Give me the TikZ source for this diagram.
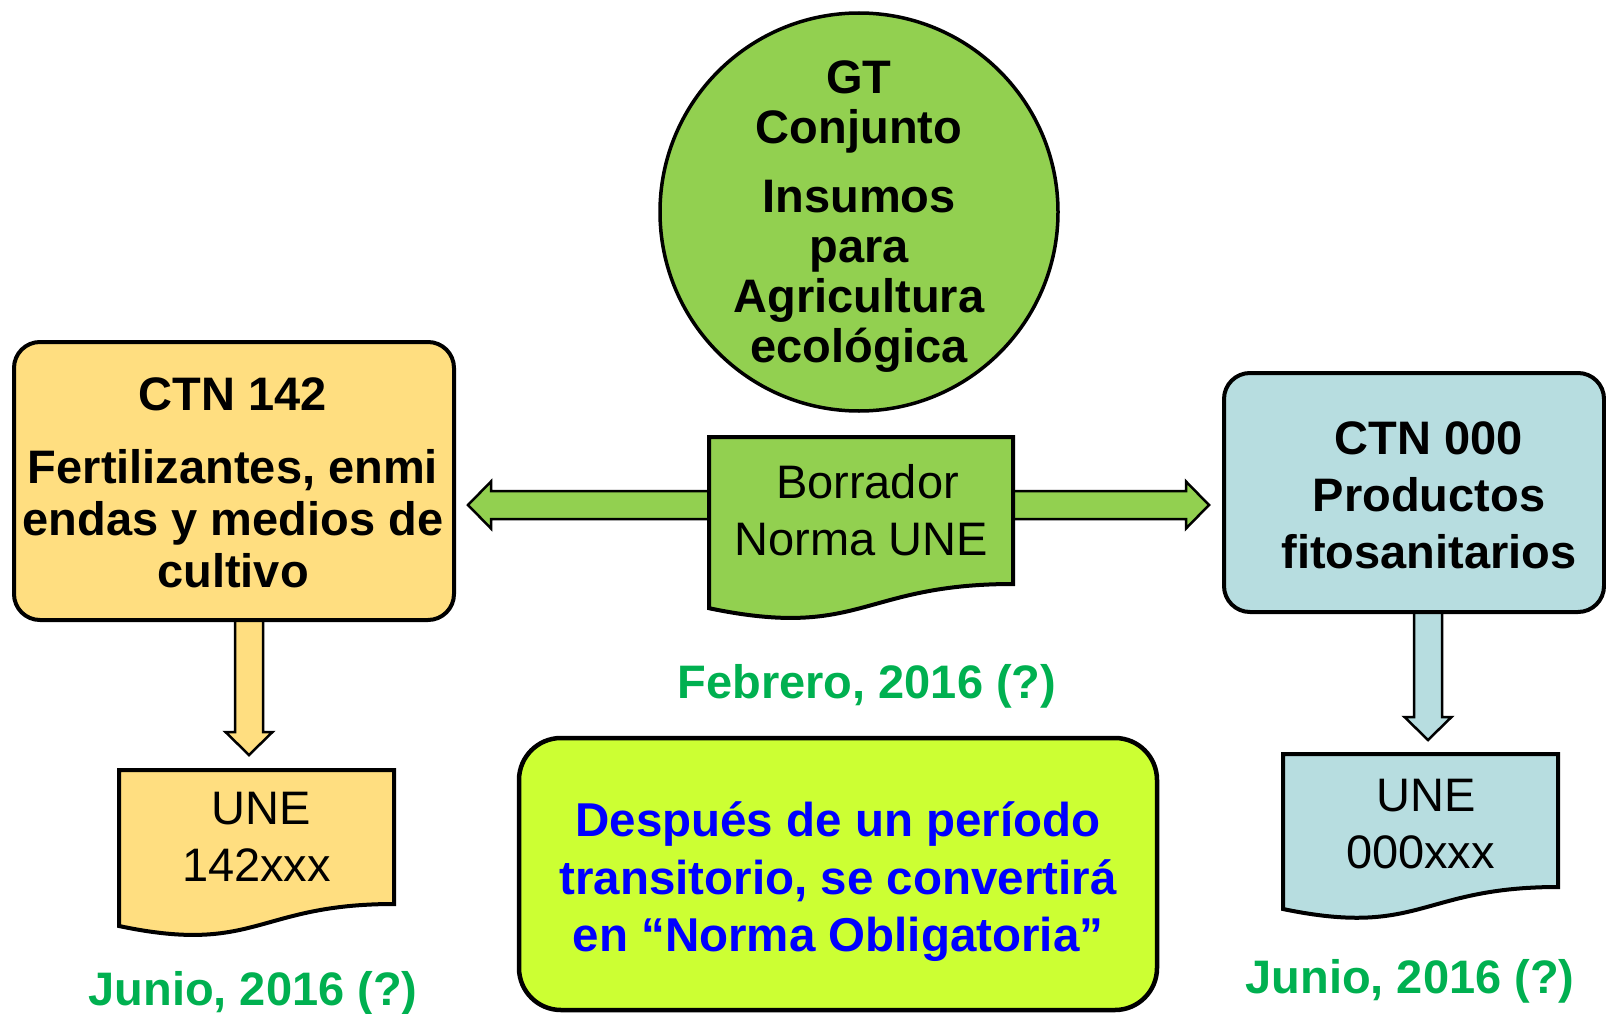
\documentclass[tikz,border=0pt]{standalone}
\usepackage{fontspec}
\setmainfont{Liberation Sans}
\usetikzlibrary{calc}
\pgfdeclarelayer{bg}
\pgfsetlayers{bg,main}
\definecolor{gGreen}{HTML}{92D050}
\definecolor{yBox}{HTML}{FFDE80}
\definecolor{bBox}{HTML}{B7DDE0}
\definecolor{lime}{HTML}{CCFF33}
\definecolor{dateGreen}{HTML}{00B050}
\definecolor{noteBlue}{HTML}{0000FF}
\tikzset{
  boxstyle/.style={draw=black, line width=4pt, rounded corners=26pt, inner sep=0pt, outer sep=0pt},
  docrect/.style={inner sep=0pt, outer sep=0pt, align=center, font=\fontsize{47}{57}\selectfont},
  docline/.style={draw=black, line width=4pt, line join=miter},
  barrow/.style={draw=black, line width=2.5pt, line join=miter},
  boldtxt/.style={align=center, font=\bfseries\fontsize{47}{52}\selectfont},
  datetxt/.style={font=\bfseries\fontsize{47}{52}\selectfont, text=dateGreen, anchor=base, inner sep=0pt},
}
\begin{document}
\begin{tikzpicture}[x=1pt,y=-1pt]
\useasboundingbox (0,0) rectangle (1606,1014);

% main nodes
\node[boxstyle, fill=yBox, minimum width=440pt, minimum height=278pt] (ctn142) at (234,481) {};
\node[boldtxt, inner sep=0pt] (ctn142t) at (233,483)
  {CTN 142\\[21pt]Fertilizantes, enmi\\endas y medios de\\cultivo};

\node[circle, draw=black, line width=3.5pt, fill=gGreen, minimum size=398pt, inner sep=0pt] (gt) at (859,212) {};
\node[align=center, inner sep=0pt, font=\bfseries\fontsize{47}{50}\selectfont] (gtt) at (859,217)
  {GT\\Conjunto\\[19pt]Insumos\\para\\Agricultura\\ecológica};

\node[boxstyle, fill=bBox, minimum width=380pt, minimum height=239pt] (ctn000) at (1414,492.5) {};
\node[boldtxt, font=\bfseries\fontsize{47}{57}\selectfont, inner sep=0pt] (ctn000t) at (1429,495.5)
  {CTN 000\\Productos\\fitosanitarios};

\node[docrect, minimum width=304pt, minimum height=147pt, anchor=north west] (bor) at (709,437)
  {\hspace*{13pt}Borrador\\Norma UNE};
\node[docrect, minimum width=275pt, minimum height=134pt, anchor=north west] (d142) at (119,770)
  {\hspace*{10pt}UNE\\142xxx};
\node[docrect, minimum width=275pt, minimum height=133pt, anchor=north west] (d000) at (1283,754)
  {\hspace*{12pt}\rule{0pt}{40pt}UNE\\000xxx};

\node[boxstyle, rounded corners=42pt, line width=4.5pt, fill=lime, minimum width=638pt, minimum height=272pt] (note) at (838,874) {};
\node[align=center, inner sep=0pt, font=\bfseries\fontsize{47.5}{57.5}\selectfont, text=noteBlue] (notet) at (838,882)
  {Después de un período\\transitorio, se convertirá\\en “Norma Obligatoria”};

\node[datetxt] (feb) at (867,698) {Febrero, 2016 (?)};
\node[datetxt] (jun1) at (253,1005) {Junio, 2016 (?)};
\node[datetxt] (jun2) at (1410,993) {Junio, 2016 (?)};

\begin{pgfonlayer}{bg}
% horizontal block arrows
\coordinate (a1s) at (bor.west |- 0,505);
\coordinate (a1t) at ($(ctn142.east |- 0,505)+(14pt,0)$);
\draw[barrow, fill=gGreen] ($(a1s)+(6pt,14pt)$) -- ($(a1t)+(23pt,14pt)$) -- ($(a1t)+(23pt,23.5pt)$) -- (a1t)
  -- ($(a1t)+(23pt,-23.5pt)$) -- ($(a1t)+(23pt,-14pt)$) -- ($(a1s)+(6pt,-14pt)$) -- cycle;
\coordinate (a2s) at (bor.east |- 0,505);
\coordinate (a2t) at ($(ctn000.west |- 0,505)+(-15pt,0)$);
\draw[barrow, fill=gGreen] ($(a2s)+(-6pt,14pt)$) -- ($(a2t)+(-23pt,14pt)$) -- ($(a2t)+(-23pt,23.5pt)$) -- (a2t)
  -- ($(a2t)+(-23pt,-23.5pt)$) -- ($(a2t)+(-23pt,-14pt)$) -- ($(a2s)+(-6pt,-14pt)$) -- cycle;
% vertical block arrows
\coordinate (a3s) at (ctn142.south -| 249,0);
\coordinate (a3t) at ($(d142.north -| 249,0)+(0,15pt)$);
\draw[barrow, fill=yBox] ($(a3s)+(-14pt,6pt)$) -- ($(a3t)+(-14pt,23pt)$) -- ($(a3t)+(-23.5pt,23pt)$) -- (a3t)
  -- ($(a3t)+(23.5pt,23pt)$) -- ($(a3t)+(14pt,23pt)$) -- ($(a3s)+(14pt,6pt)$) -- cycle;
\coordinate (a4s) at (ctn000.south -| 1428,0);
\coordinate (a4t) at ($(d000.north -| 1428,0)+(0,14pt)$);
\draw[barrow, fill=bBox] ($(a4s)+(-14pt,6pt)$) -- ($(a4t)+(-14pt,23pt)$) -- ($(a4t)+(-23.5pt,23pt)$) -- (a4t)
  -- ($(a4t)+(23.5pt,23pt)$) -- ($(a4t)+(14pt,23pt)$) -- ($(a4s)+(14pt,6pt)$) -- cycle;
% document outlines
\draw[docline, fill=gGreen] (bor.north west) -- (bor.north east) -- (bor.south east)
  .. controls (bor.south) and ($(bor.south)+(0,-55.9pt)$) .. ($(bor.south west)+(0,-24.2pt)$) -- cycle;
\draw[docline, fill=yBox] (d142.north west) -- (d142.north east) -- (d142.south east)
  .. controls (d142.south) and ($(d142.south)+(0,-51pt)$) .. ($(d142.south west)+(0,-22pt)$) -- cycle;
\draw[docline, fill=bBox] (d000.north west) -- (d000.north east) -- (d000.south east)
  .. controls (d000.south) and ($(d000.south)+(0,-50.6pt)$) .. ($(d000.south west)+(0,-22pt)$) -- cycle;
\end{pgfonlayer}
\end{tikzpicture}
\end{document}
